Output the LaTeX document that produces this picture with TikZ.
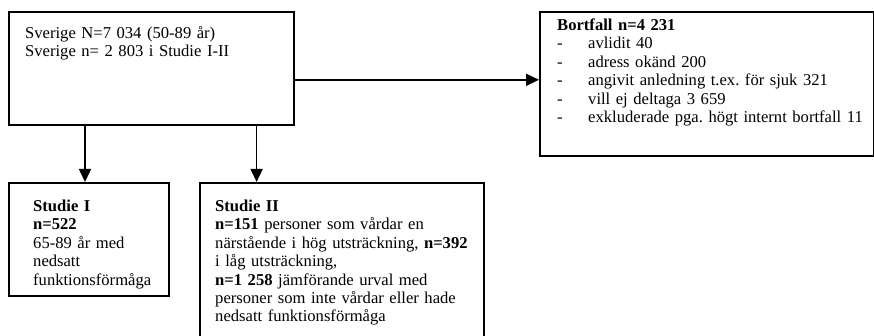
\documentclass[tikz,border=0pt]{standalone}
\usepackage{fontspec}
\setmainfont{Liberation Serif}
\usetikzlibrary{arrows.meta}
\frenchspacing

\begin{document}
\begin{tikzpicture}[x=1pt, y=1pt, >={Triangle[length=13pt, width=12pt]}]
    \tikzstyle{box} = [draw, line width=1.6pt, rectangle, inner sep=0pt, anchor=north west]
    \tikzstyle{txt} = [anchor=base west, inner sep=0pt, text width=330pt, align=left, font=\fontsize{16.6}{18.4}\selectfont]
    \tikzstyle{link} = [->, line width=1.6pt]

    \useasboundingbox (0,0) rectangle (874,-336);

    \begin{scope}
        \path
          node[box, minimum width=285pt, minimum height=113pt] (S) at (8,-11) {}
          node[box, minimum width=334pt, minimum height=144pt] (B) at (539,-11) {}
          node[box, minimum width=160pt, minimum height=113pt] (S1) at (8,-182) {}
          node[box, minimum width=284pt, minimum height=165pt] (S2) at (199,-182) {};

        \node[txt] (St) at (25,-38.5) {Sverige N=7 034 (50-89 år)\\Sverige n= 2 803 i Studie I-II};
        \node[txt] (Bt) at (557,-30.5) {\textbf{Bortfall n=4 231}\\
          \makebox[31pt][l]{-}avlidit 40\\
          \makebox[31pt][l]{-}adress okänd 200\\
          \makebox[31pt][l]{-}angivit anledning t.ex. för sjuk 321\\
          \makebox[31pt][l]{-}vill ej deltaga 3 659\\
          \makebox[31pt][l]{-}exkluderade pga. högt internt bortfall 11};
        \node[txt] (S1t) at (33,-211.5) {\textbf{Studie I}\\\textbf{n=522}\\65-89 år med\\nedsatt\\funktionsförmåga};
        \node[txt] (S2t) at (215,-211.5) {\textbf{Studie II}\\
          \textbf{n=151} personer som vårdar en\\
          närstående i hög utsträckning, \textbf{n=392}\\
          i låg utsträckning,\\
          \textbf{n=1 258} jämförande urval med\\
          personer som inte vårdar eller hade\\
          nedsatt funktionsförmåga};

        \draw[link] ([yshift=-11.5pt]S.east) -- ([yshift=-11.5pt]S.east -| B.west);
        \draw[link] ([xshift=77pt]S.south west) -- ([xshift=77pt]S.south west |- S1.north);
        \draw[link] ([xshift=-38pt]S.south east) -- ([xshift=-38pt]S.south east |- S2.north);
    \end{scope}
\end{tikzpicture}
\end{document}
